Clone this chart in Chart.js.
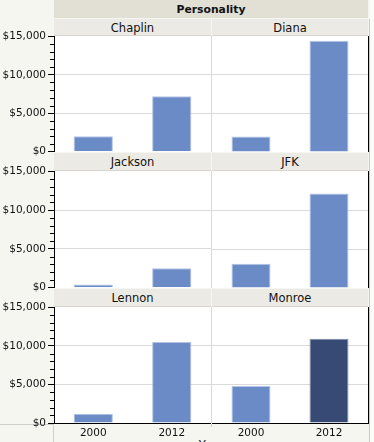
<!DOCTYPE html>
<html>
<head>
<meta charset="utf-8">
<script src="https://cdn.jsdelivr.net/npm/chart.js@4/dist/chart.umd.min.js"></script>
<style>
  html, body { margin:0; padding:0; }
  body { width:374px; height:442px; overflow:hidden; position:relative; background:#f6f6f1; font-family:"DejaVu Sans", sans-serif; color:#111; }
  .abs { position:absolute; }
  .hdr { position:absolute; background:#ebeae4; text-align:center; font-size:11.5px; box-sizing:border-box; border-bottom:1px solid #d6d5ce; }
  .plotbg { position:absolute; background:#fff; }
  canvas { position:absolute; }
</style>
</head>
<body>
<script>
// ---- data ----
const groupTitle = 'Personality';
const xTitle = 'Year';
const personalities = ['Chaplin', 'Diana', 'Jackson', 'JFK', 'Lennon', 'Monroe'];
const years = ['2000', '2012'];
const values2000 = [2000, 2000, 400, 3100, 1200, 4800];
const values2012 = [7200, 14400, 2500, 12100, 10500, 10900];
const yTicks = [0, 5000, 10000, 15000];
const highlightPersonality = 'Monroe';
const highlightYear = '2012';

// ---- layout ----
const plotTop = [36, 171, 307];
const plotBottom = [152, 288, 423];
const colLeft = [54, 212];

function div(cls, l, t, w, h, css, text) {
  const d = document.createElement('div');
  d.className = cls;
  d.style.left = l + 'px'; d.style.top = t + 'px';
  d.style.width = w + 'px'; d.style.height = h + 'px';
  if (css) Object.assign(d.style, css);
  if (text !== undefined) d.textContent = text;
  document.body.appendChild(d);
  return d;
}

// right strip
div('abs', 370, 0, 4, 442, {background:'#fbfbfa'});
div('abs', 369, 19, 1, 423, {background:'#c9c9c6'});

// group header
div('abs', 54, 0, 314, 18, {background:'#e2e0d5', textAlign:'center', fontWeight:'bold', fontSize:'10.8px', lineHeight:'19px'}, groupTitle);

// plot backgrounds + divider
for (let r = 0; r < 3; r++) {
  div('plotbg', 54, plotTop[r], 314, plotBottom[r] - plotTop[r]);
  div('abs', 211, plotTop[r], 1, plotBottom[r] - plotTop[r], {background:'#d9d9d9'});
}
// bottom label cell lines
div('abs', 0, 424, 53, 1, {background:'#cfcfcb'});
div('abs', 53, 424, 1, 18, {background:'#cfcfcb'});
div('abs', 211, 424, 1, 3, {background:'#cfcfcb'});

// panel headers
const hdrTop = [19, 153, 289];
personalities.forEach((p, i) => {
  const r = Math.floor(i / 2), c = i % 2;
  const h = plotTop[r] - hdrTop[r];
  const w = c === 0 ? 157 : 156;
  div('hdr', colLeft[c], hdrTop[r], w, h, {lineHeight: (h + 1) + 'px'}, p);
});

// x title (cut at bottom)
div('abs', 161, 437, 100, 16, {textAlign:'center', fontSize:'11.5px', lineHeight:'16px'}, xTitle);

const minorTicks = {
  id: 'minorTicks',
  afterDraw(chart, args, opts) {
    const ctx = chart.ctx, y = chart.scales.y, a = chart.chartArea;
    ctx.save();
    ctx.strokeStyle = '#000';
    ctx.lineWidth = 1;
    if (opts.left) {
      for (let v = 1000; v < 15000; v += 1000) {
        if (v % 5000 === 0) continue;
        const py = Math.round(y.getPixelForValue(v)) + 0.5;
        ctx.beginPath();
        ctx.moveTo(a.left - 4, py);
        ctx.lineTo(a.left, py);
        ctx.stroke();
      }
    }
    if (opts.right) {
      ctx.beginPath();
      ctx.moveTo(a.right + 0.5, a.top);
      ctx.lineTo(a.right + 0.5, a.bottom + (opts.bottom ? 1 : 0));
      ctx.stroke();
    }
    ctx.restore();
  }
};

personalities.forEach((p, i) => {
  const r = Math.floor(i / 2), c = i % 2;
  const bottomRow = r === 2;
  const plotH = plotBottom[r] - plotTop[r];
  const xH = bottomRow ? 19 : 0;
  const cv = document.createElement('canvas');
  const cw = c === 0 ? 211 : 158;
  const ch = 8 + plotH + (bottomRow ? xH : 8);
  cv.width = cw; cv.height = ch;
  cv.style.left = (c === 0 ? 0 : 212) + 'px';
  cv.style.top = (plotTop[r] - 8) + 'px';
  cv.style.width = cw + 'px'; cv.style.height = ch + 'px';
  document.body.appendChild(cv);

  const vals = [values2000[i], values2012[i]];
  const bg = years.map(y => (p === highlightPersonality && y === highlightYear) ? '#364a73' : '#6b8bc7');
  const bd = years.map(y => (p === highlightPersonality && y === highlightYear) ? '#7d8cab' : '#b2c3e6');

  new Chart(cv, {
    type: 'bar',
    data: {
      labels: years,
      datasets: [{ data: vals, backgroundColor: bg, borderColor: bd, borderWidth: 1, borderSkipped: 'start', barPercentage: 0.5, categoryPercentage: 1.0 }]
    },
    plugins: [minorTicks],
    options: {
      responsive: false,
      animation: false,
      devicePixelRatio: 1,
      layout: { padding: { top: 8, bottom: bottomRow ? 0 : 8, left: 0, right: c === 0 ? 0 : 2 } },
      plugins: {
        legend: { display: false },
        tooltip: { enabled: false },
        minorTicks: { left: c === 0, right: c === 1, bottom: bottomRow }
      },
      scales: {
        x: {
          display: bottomRow,
          offset: true,
          grid: { display: true, color: 'rgba(0,0,0,0)', drawTicks: false },
          border: { display: true, color: '#000', width: 1 },
          ticks: { color: '#111', font: { family: 'DejaVu Sans', size: 10.5 }, padding: 4, maxRotation: 0 },
          afterFit: s => { s.height = xH; }
        },
        y: {
          min: 0, max: 15000,
          afterBuildTicks: s => { s.ticks = yTicks.map(v => ({ value: v })); },
          grid: {
            color: ctx => (ctx.tick && (ctx.tick.value === 0 || ctx.tick.value === 15000)) ? 'rgba(0,0,0,0)' : '#dadada',
            tickColor: '#000',
            drawTicks: c === 0,
            tickLength: 6
          },
          border: { display: c === 0, color: '#000', width: 1 },
          ticks: {
            display: c === 0,
            color: '#111',
            padding: 2,
            font: { family: 'DejaVu Sans', size: 10.5 },
            callback: v => '$' + v.toLocaleString('en-US')
          },
          afterFit: s => { s.width = c === 0 ? 54 : 0; }
        }
      }
    }
  });
});
</script>
</body>
</html>
